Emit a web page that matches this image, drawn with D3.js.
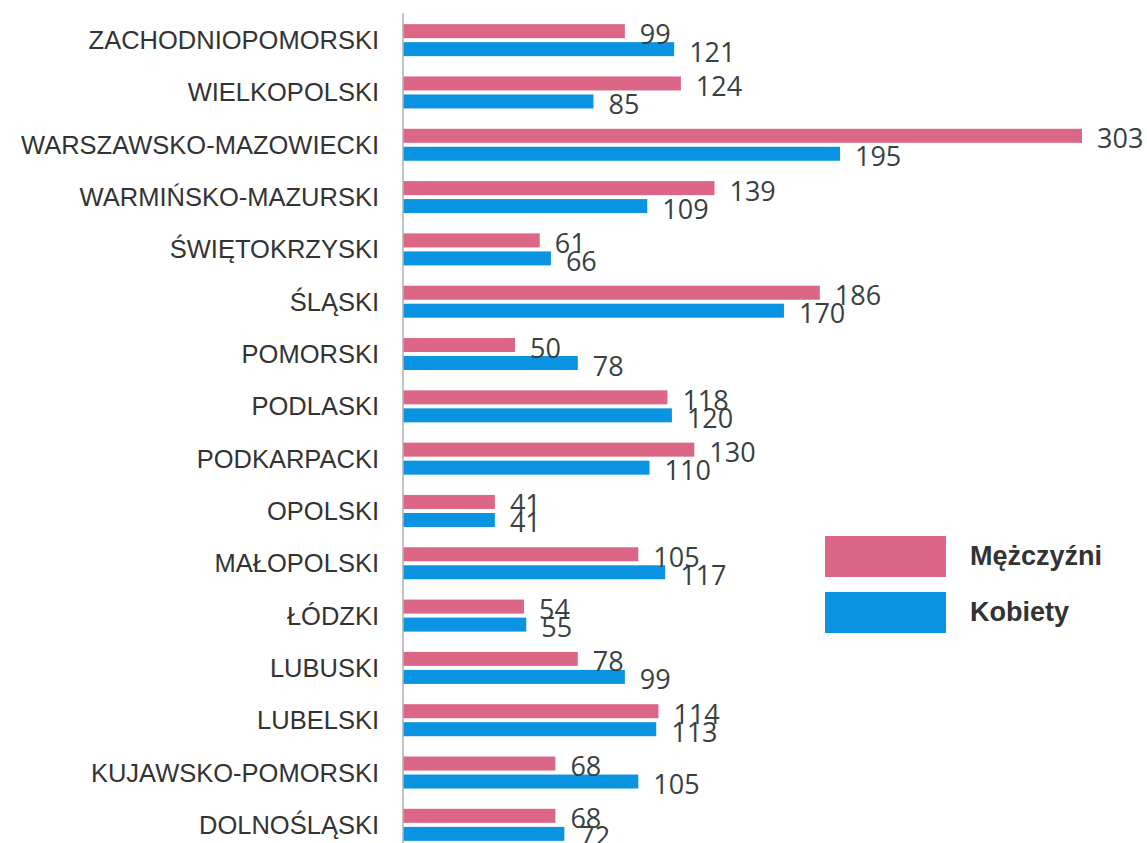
<!DOCTYPE html>
<html>
<head>
<meta charset="utf-8">
<script src="https://cdn.jsdelivr.net/npm/d3@7"></script>
<style>
  body { margin: 0; background: #fff; }
  svg { display: block; }
</style>
</head>
<body>
<div id="chart"></div>
<script>
// regions, top to bottom as drawn
const regions = [
    "ZACHODNIOPOMORSKI", "WIELKOPOLSKI", "WARSZAWSKO-MAZOWIECKI", "WARMIŃSKO-MAZURSKI",
    "ŚWIĘTOKRZYSKI", "ŚLĄSKI", "POMORSKI", "PODLASKI", "PODKARPACKI", "OPOLSKI",
    "MAŁOPOLSKI", "ŁÓDZKI", "LUBUSKI", "LUBELSKI", "KUJAWSKO-POMORSKI", "DOLNOŚLĄSKI"
];
const men = [99, 124, 303, 139, 61, 186, 50, 118, 130, 41, 105, 54, 78, 114, 68, 68];
const women = [121, 85, 195, 109, 66, 170, 78, 120, 110, 41, 117, 55, 99, 113, 105, 72];
const seriesNames = ["Mężczyźni", "Kobiety"];
const seriesColors = ["#dc6686", "#0a93e0"];

const W = 1147, H = 843;

let svg = d3.select("#chart").append("svg")
    .attr("width", W)
    .attr("height", H);

//Scales
let x = d3.scaleLinear().domain([0, 303]).range([403, 1082]);
let y = d3.scaleBand().domain(regions).range([14, 851]);
let barH = 14;

let rows = regions.map((r, i) => ({ region: r, values: [men[i], women[i]] }));

//Category labels
svg.append("g")
    .selectAll("text")
    .data(regions)
    .enter()
    .append("text")
    .attr("x", 379)
    .attr("y", d => y(d) + y.bandwidth() / 2)
    .attr("text-anchor", "end")
    .attr("dominant-baseline", "central")
    .style("font-family", "'Liberation Sans', Arial, sans-serif")
    .style("font-size", "25.5px")
    .attr("fill", "#333")
    .text(d => d);

//Bars
let groups = svg.append("g")
    .selectAll(".row")
    .data(rows)
    .enter()
    .append("g")
    .attr("class", "row")
    .attr("transform", d => "translate(0," + (y(d.region) + y.bandwidth() / 2) + ")");

groups.selectAll("rect")
    .data(d => d.values)
    .enter()
    .append("rect")
    .attr("x", x(0))
    .attr("y", (d, i) => (i === 0 ? -16 : 2))
    .attr("width", d => x(d) - x(0))
    .attr("height", barH)
    .attr("fill", (d, i) => seriesColors[i]);

//Value labels
groups.selectAll("text")
    .data(d => d.values)
    .enter()
    .append("text")
    .attr("x", d => x(d) + 15)
    .attr("y", (d, i) => (i === 0 ? -9 : 9) + 2)
    .attr("dominant-baseline", "central")
    .style("font-family", "'Open Sans', sans-serif")
    .style("font-size", "27px")
    .attr("fill", "#3a3f3f")
    .text(d => d);

//Axis line
svg.append("line")
    .attr("x1", x(0)).attr("x2", x(0))
    .attr("y1", 13).attr("y2", H)
    .attr("stroke", "#b0b0b0")
    .attr("stroke-width", 1.5);

//Legend
let legend = svg.append("g")
    .selectAll(".legendItem")
    .data(seriesNames)
    .enter()
    .append("g")
    .attr("class", "legendItem")
    .attr("transform", (d, i) => "translate(825," + (536 + i * 56) + ")");

legend.append("rect")
    .attr("width", 121)
    .attr("height", 41)
    .attr("fill", (d, i) => seriesColors[i]);

legend.append("text")
    .attr("x", 145)
    .attr("y", 20)
    .attr("dominant-baseline", "central")
    .style("font-family", "'Liberation Sans', Arial, sans-serif")
    .style("font-size", "27px")
    .style("font-weight", "bold")
    .attr("fill", "#333")
    .text(d => d);
</script>
</body>
</html>
